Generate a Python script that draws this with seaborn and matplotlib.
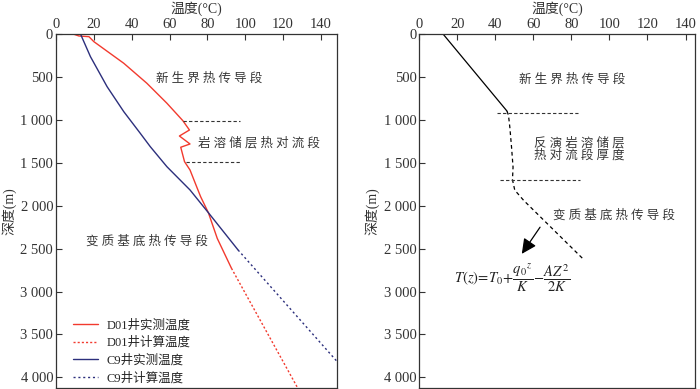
import pandas as pd
import matplotlib
matplotlib.use('Agg')
import matplotlib.pyplot as plt
import seaborn as sns

# D01 well measured temperature (degC) vs depth (m)
d01_temp = [9.5, 12.1, 17.4, 20.0, 35.8, 48.0, 58.6, 67.0, 70.5, 65.2, 70.8, 65.9,
            67.9, 70.8, 74.3, 76.4, 80.5, 85.2, 92.7]
d01_depth = [0, 20, 28, 86, 338, 571, 804, 1007, 1116, 1186, 1279, 1317,
             1485, 1582, 1777, 1893, 2080, 2380, 2728]
# D01 calculated
d01c_temp = [92.7, 127.6]
d01c_depth = [2728, 4120]

# C9 well measured
c9_temp = [13.0, 18.2, 27.0, 35.8, 44.5, 49.8, 58.6, 70.8, 80.5, 96.2]
c9_depth = [0, 261, 611, 902, 1154, 1310, 1544, 1815, 2080, 2515]
# C9 calculated
c9c_temp = [96.2, 148.3]
c9c_depth = [2515, 3810]

# right panel: conduction + inverted convection profile
cond_temp = [12.6, 46.1]
cond_depth = [0, 895]
inv_temp = [46.1, 46.9, 47.6, 48.5, 49.3, 49.0, 50.2, 54.9, 85.9]
inv_depth = [895, 945, 1082, 1315, 1548, 1696, 1817, 1937, 2614]

# boundary lines of the convection layer
left_bounds = [(1007, 67.3, 97.1), (1485, 68.7, 97.1)]
right_bounds = [(918, 40.7, 83.2), (1704, 42.5, 84.6)]

yticks = [0, 500, 1000, 1500, 2000, 2500, 3000, 3500, 4000]
ytick_labels = ['0', '500', '1 000', '1 500', '2 000', '2 500', '3 000', '3 500', '4 000']
xticks = [0, 20, 40, 60, 80, 100, 120, 140]

sns.set_theme(style='ticks')
plt.rcParams['font.family'] = ['Liberation Serif', 'Noto Sans CJK SC']
plt.rcParams['mathtext.fontset'] = 'stix'
plt.rcParams['axes.unicode_minus'] = False

red = '#f23a2e'
blue = '#2c2f7c'
txt = '#383838'

fig = plt.figure(figsize=(7, 3.89), dpi=100)
ax1 = fig.add_axes([0.08, 0.0034, 0.401, 0.9085])
ax2 = fig.add_axes([0.599, 0.0034, 0.3939, 0.9085])


def spaced(s):
    return ' '.join(s)


def style_axis(ax, xmax):
    ax.set_xlim(0, xmax)
    ax.set_ylim(4120, 0)
    ax.xaxis.tick_top()
    ax.xaxis.set_label_position('top')
    ax.set_xticks(xticks)
    ax.set_yticks(yticks)
    ax.set_yticklabels(ytick_labels)
    ax.tick_params(direction='in', length=4, width=0.8, labelsize=10.5,
                   colors='#333333', pad=2)
    ax.set_xlabel('温度(°C)', fontsize=10, color='#333333', labelpad=4)
    ax.set_ylabel('深度(m)', fontsize=10, color='#333333', labelpad=3)
    for sp in ax.spines.values():
        sp.set_visible(True)
        sp.set_color('#333333')
        sp.set_linewidth(0.9)


# ---- left panel
sns.lineplot(x=d01_temp, y=d01_depth, sort=False, estimator=None, ax=ax1,
             color=red, lw=1.0, label='D01井实测温度')
sns.lineplot(x=d01c_temp, y=d01c_depth, sort=False, estimator=None, ax=ax1,
             color=red, lw=1.0, linestyle=(0, (1.5, 1.5)), label='D01井计算温度')
sns.lineplot(x=c9_temp, y=c9_depth, sort=False, estimator=None, ax=ax1,
             color=blue, lw=1.0, label='C9井实测温度')
sns.lineplot(x=c9c_temp, y=c9c_depth, sort=False, estimator=None, ax=ax1,
             color=blue, lw=1.0, linestyle=(0, (1.5, 2)), label='C9井计算温度')

for d, x0, x1 in left_bounds:
    ax1.plot([x0, x1], [d, d], color='#333333', lw=0.8, linestyle=(0, (3, 2)))

ax1.text(80.7, 513, spaced('新生界热传导段'), fontsize=9, color=txt, ha='center', va='center')
ax1.text(107.4, 1271, spaced('岩溶储层热对流段'), fontsize=9, color=txt, ha='center', va='center')
ax1.text(47.8, 2418, spaced('变质基底热传导段'), fontsize=9, color=txt, ha='center', va='center')

ax1.legend(loc='lower left', bbox_to_anchor=(0.02, -0.022), frameon=False, fontsize=9,
           handlelength=2.0, handletextpad=0.7, labelspacing=0.42)
style_axis(ax1, 148.3)

# ---- right panel
sns.lineplot(x=cond_temp, y=cond_depth, sort=False, estimator=None, ax=ax2,
             color='black', lw=0.9)
sns.lineplot(x=inv_temp, y=inv_depth, sort=False, estimator=None, ax=ax2,
             color='black', lw=0.9, linestyle=(0, (3, 2.5)))
for d, x0, x1 in right_bounds:
    ax2.plot([x0, x1], [d, d], color='#333333', lw=0.8, linestyle=(0, (3, 2)))

ax2.text(80.2, 525, spaced('新生界热传导段'), fontsize=9, color=txt, ha='center', va='center')
ax2.text(84.3, 1345, spaced('反演岩溶储层') + '\n' + spaced('热对流段厚度'), fontsize=9,
         color=txt, ha='center', va='center', linespacing=1.0)
ax2.text(102.4, 2112, spaced('变质基底热传导段'), fontsize=9, color=txt, ha='center', va='center')
ax2.annotate('', xy=(53.9, 2560), xytext=(63.5, 2249),
             arrowprops=dict(arrowstyle='-|>,head_length=0.45,head_width=0.22',
                             color='black', lw=0.9, mutation_scale=20,
                             shrinkA=0, shrinkB=0))
ax2.text(48.6, 2839, r'$T(z)\!=\!T_0\!+\!\dfrac{q_0{}^{z}}{K}\!-\!\dfrac{AZ^2}{2K}$',
         fontsize=10.5, color='#222222', ha='center', va='center')
style_axis(ax2, 145)

fig.savefig('out.png', dpi=100)
